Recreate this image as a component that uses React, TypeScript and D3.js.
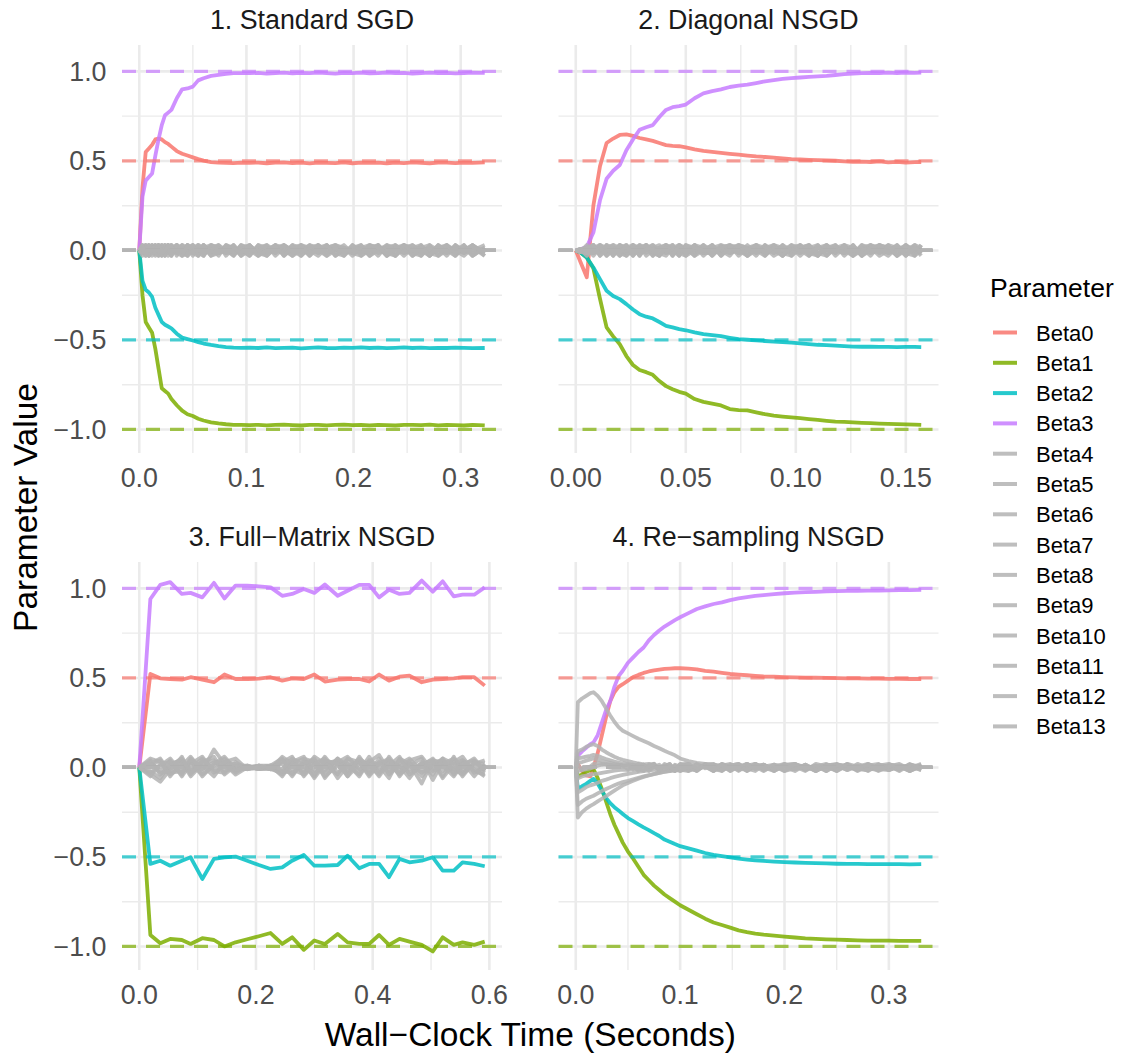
import React from "react";
import * as d3 from "d3";

// ---------------- DATA ----------------
const params = ["Beta0","Beta1","Beta2","Beta3","Beta4","Beta5","Beta6","Beta7","Beta8","Beta9","Beta10","Beta11","Beta12","Beta13"];
const paramColors = ["#F8766D","#7CAE00","#00BFC4","#C77CFF","#B3B3B3","#B3B3B3","#B3B3B3","#B3B3B3","#B3B3B3","#B3B3B3","#B3B3B3","#B3B3B3","#B3B3B3","#B3B3B3"];
const trueValues = [0.5,-1,-0.5,1,0,0,0,0,0,0,0,0,0,0];
const panelTitles = ["1. Standard SGD","2. Diagonal NSGD","3. Full\u2212Matrix NSGD","4. Re\u2212sampling NSGD"];
const yTicks = [-1,-0.5,0,0.5,1];
const yMinor = [-0.75,-0.25,0.25,0.75];
const xTicks1 = [0,0.1,0.2,0.3];
const xTicks2 = [0,0.05,0.1,0.15];
const xTicks3 = [0,0.2,0.4,0.6];
const xTicks4 = [0,0.1,0.2,0.3];

// Panel 1: Standard SGD
const t1 = [0,.003,.006,.009,.012,.015,.018,.021,.024,.027,
 .03,.035,.04,.045,.05,.055,.06,.067,.074,.081,
 .088,.095,.103,.111,.119,.127,.135,.143,.151,.159,
 .167,.175,.183,.191,.199,.207,.215,.223,.231,.239,
 .247,.255,.263,.271,.279,.287,.295,.303,.311,.3224];
const p1b0 = [0,.35,.55,.57,.59,.62,.625,.62,.605,.595,
 .58,.555,.54,.53,.52,.51,.502,.493,.49,.489,
 .488,.49,.489,.491,.487,.49,.492,.488,.49,.486,
 .491,.489,.488,.492,.487,.49,.489,.491,.486,.49,
 .488,.492,.489,.487,.49,.491,.488,.49,.489,.492];
const p1b1 = [0,-.25,-.40,-.43,-.46,-.55,-.66,-.77,-.785,-.80,
 -.83,-.865,-.895,-.915,-.925,-.94,-.95,-.96,-.966,-.971,
 -.974,-.975,-.976,-.974,-.977,-.975,-.973,-.976,-.978,-.975,
 -.974,-.977,-.975,-.973,-.976,-.975,-.977,-.974,-.976,-.978,
 -.975,-.974,-.976,-.973,-.977,-.975,-.976,-.978,-.974,-.977];
const p1b2 = [0,-.17,-.22,-.235,-.26,-.32,-.36,-.40,-.415,-.425,
 -.435,-.465,-.487,-.495,-.503,-.512,-.52,-.528,-.535,-.54,
 -.543,-.544,-.543,-.545,-.542,-.546,-.544,-.543,-.547,-.544,
 -.542,-.545,-.546,-.543,-.544,-.541,-.545,-.543,-.546,-.544,
 -.542,-.545,-.543,-.546,-.544,-.545,-.543,-.544,-.546,-.545];
const p1b3 = [0,.30,.39,.41,.43,.53,.62,.70,.755,.77,
 .785,.85,.90,.905,.915,.95,.962,.975,.981,.986,
 .99,.991,.99,.992,.988,.991,.993,.989,.992,.99,
 .994,.991,.988,.992,.99,.993,.989,.991,.994,.99,
 .992,.988,.991,.993,.99,.992,.989,.991,.993,.992];
const p1b4 = [0,.015,-.015,.03,0,-.03,.015,.03,-.015,0, .03,-.03,.015,0,-.015,.03,.015,-.03,0,.015, -.015,.03,0,-.03,.015,-.015,.03,0,.015,-.03, .03,-.015,0,.015,-.03,.015,.03,-.015,0,-.03, .015,.03,-.015,0,.015,-.03,.03,0,-.015,.015];
const p1b5 = [0,-.015,.03,-.015,.015,.03,-.03,0,.015,-.03, .015,.03,-.015,-.03,.03,0,-.015,.015,.03,-.03, .015,0,-.03,.03,-.015,.015,0,-.03,.03,.015, -.015,.03,-.03,0,.015,-.015,.03,.015,-.03,.03, 0,-.015,.03,-.03,.015,.03,-.015,0,.03,-.015];
const p1b6 = [0,.03,0,-.03,.03,-.015,0,.015,-.03,.03, -.015,0,.03,-.015,.015,-.03,.03,0,-.015,.03, .015,-.03,.015,0,.03,-.03,.015,-.015,.03,0, -.03,.015,.03,-.015,0,.03,-.03,.015,.015,-.015, .03,-.03,0,.015,-.015,.03,0,-.03,.015,0];
const p1b7 = [0,-.03,.015,0,-.015,.015,.03,-.03,.03,.015, -.03,.015,-.015,.03,0,-.015,-.03,.03,.015,-.015, .03,-.015,.03,-.015,0,.03,-.03,.015,-.015,.03, .015,-.03,0,.03,-.015,0,.015,-.03,.03,.015, -.03,.015,.03,-.015,-.03,.015,0,.03,-.03,.015];
const p1b8 = [0,.015,.03,-.03,-.015,.03,-.015,.015,0,-.015, .015,-.015,.03,.015,-.03,.015,0,-.015,.03,0, -.03,.015,-.015,.015,.03,0,-.015,.03,-.03,.015, 0,.03,-.015,-.03,.03,-.03,0,.03,-.015,.015, -.015,0,.015,.03,-.03,0,.015,-.015,.03,-.03];
const p1b9 = [0,0,-.03,.015,.03,0,.03,-.015,.015,.03, 0,.03,-.03,-.015,.015,.03,-.015,.015,-.03,.03, 0,.015,.03,-.015,-.03,.015,.03,-.015,0,-.015, .03,0,.015,-.03,.015,.03,-.015,0,.03,-.03, .015,-.03,.015,-.015,.03,0,-.03,.015,0,.03];
const p1b10 = [0,-.015,.015,.015,-.03,-.015,.015,.03,-.03,.015, -.015,.015,0,.03,-.015,-.03,.015,.03,-.015,0, .03,-.03,0,.015,-.015,.03,.015,-.03,0,.03, -.015,.015,.03,0,-.015,-.03,.015,.03,-.03,0, .03,.015,-.03,.03,0,-.015,.03,-.015,.015,-.03];
const p1b11 = [0,.03,-.015,0,.015,-.015,-.03,.015,.03,-.015, .03,0,-.015,.015,.03,-.015,.03,-.015,0,.015, -.03,.03,.015,0,-.03,.015,-.015,.03,.015,-.015, 0,-.03,.03,.015,-.015,.015,-.03,0,.015,.03, -.015,.03,0,-.03,.015,.015,-.03,.03,-.015,0];
const p1b12 = [0,-.015,0,-.03,.015,.015,0,-.03,.015,0, -.03,.03,.015,-.03,0,.015,-.03,.03,.015,-.015, 0,.015,-.03,.03,.015,-.015,.03,0,-.03,.015, .03,-.015,.015,-.015,.03,0,-.015,.03,-.03,.015, .03,-.015,-.03,.015,0,.03,-.015,.015,-.03,.015];
const p1b13 = [0,.015,-.03,.03,-.015,0,.03,-.015,0,.03, .015,-.015,-.03,.03,.015,0,.03,-.03,-.015,.015, .015,-.015,.03,-.03,0,.03,-.03,.015,.03,-.03, .015,.03,-.03,.015,0,-.015,.03,.015,-.015,-.03, .03,0,.015,-.03,.03,-.015,.015,0,.03,-.015];

// Panel 2: Diagonal NSGD
const t2 = [0,.002,.005,.008,.011,.014,.017,.02,.023,.026,
 .029,.032,.035,.038,.041,.044,.047,.05,.054,.058,
 .062,.066,.07,.074,.078,.082,.086,.09,.094,.098,
 .102,.106,.11,.114,.118,.122,.126,.13,.134,.138,
 .142,.146,.15,.154,.157];
const p2b0 = [0,-.06,-.15,.25,.47,.60,.625,.645,.648,.64,
 .628,.62,.612,.60,.588,.584,.582,.576,.565,.556,
 .55,.545,.54,.535,.53,.525,.522,.518,.514,.51,
 .508,.506,.505,.503,.501,.498,.495,.496,.494,.497,
 .492,.495,.491,.493,.494];
const p2b1 = [0,-.01,-.04,-.10,-.27,-.43,-.48,-.524,-.59,-.64,
 -.668,-.68,-.695,-.73,-.758,-.775,-.79,-.80,-.83,-.846,
 -.856,-.866,-.886,-.892,-.894,-.905,-.915,-.923,-.928,-.933,
 -.937,-.942,-.947,-.952,-.956,-.958,-.961,-.963,-.965,-.967,
 -.969,-.97,-.972,-.973,-.974];
const p2b2 = [0,-.01,-.04,-.095,-.16,-.225,-.255,-.272,-.30,-.33,
 -.356,-.37,-.38,-.40,-.421,-.43,-.44,-.446,-.458,-.468,
 -.473,-.479,-.488,-.496,-.499,-.502,-.506,-.509,-.512,-.515,
 -.519,-.523,-.527,-.529,-.532,-.535,-.537,-.538,-.538,-.539,
 -.539,-.54,-.539,-.539,-.54];
const p2b3 = [0,.005,.02,.10,.28,.40,.445,.477,.56,.62,
 .674,.688,.70,.745,.785,.80,.806,.815,.85,.877,
 .89,.90,.913,.92,.926,.935,.945,.952,.958,.963,
 .966,.969,.972,.975,.98,.985,.988,.99,.992,.99,
 .993,.991,.994,.992,.993];
const p2b4 = [0,.008,.015,-.015,.03,0,-.015,.03,.015,-.03, .015,0,.03,-.015,-.03,.015,.03,0,-.015,.015, -.03,.03,.015,-.015,0,.03,-.03,.015,.015,-.015, .03,0,-.03,.015,-.015,.03,.015,-.03,0,.03, -.015,.015,-.03,.03,.015];
const p2b5 = [0,-.008,-.015,.03,-.015,.015,.03,-.03,0,.015, -.015,.03,-.03,.015,0,-.015,.03,.015,-.03,0, .03,-.015,.015,.03,-.03,0,.015,-.015,.03,-.03, .015,.03,-.015,0,.03,-.03,.015,0,-.015,.03, .015,-.03,.03,0,-.015];
const p2b6 = [0,.008,-.015,.015,.03,-.03,.015,0,-.03,.03, .015,-.015,.015,.03,-.015,0,-.03,.03,.015,-.015, .015,0,-.03,.03,.015,-.015,.03,0,-.015,.015, -.03,.015,.03,-.015,0,.015,-.03,.03,-.015,0, .03,.015,-.015,-.03,.03];
const p2b7 = [0,-.008,.015,0,-.015,.03,-.03,.015,.03,-.015, 0,.03,-.015,-.03,.03,.015,0,-.015,.03,-.03, .015,.03,-.015,0,-.03,.03,.015,-.03,0,.03, -.015,.015,0,.03,-.03,.015,-.015,.03,.015,-.03, 0,.03,-.015,.015,-.03];
const p2b8 = [0,0,.015,-.03,.015,.015,0,-.03,.015,.03, -.03,.015,.03,0,-.015,.03,-.015,.015,-.03,.03, 0,-.015,.03,.015,-.015,0,-.03,.03,.015,-.015, .03,-.03,.015,0,.015,-.015,.03,-.03,.03,.015, -.015,0,.03,-.015,.015];
const p2b9 = [0,.008,0,.03,-.03,.03,.015,-.015,-.03,0, .03,-.03,0,.015,.03,-.03,.015,0,.03,-.015, -.015,.015,.03,-.03,.015,.03,-.015,0,-.03,.015, .03,-.015,.03,-.03,.015,0,-.03,.015,.03,-.015, .015,-.03,0,.03,-.015];
const p2b10 = [0,-.008,.03,-.015,0,-.015,.03,.015,-.015,.03, -.015,0,.015,-.03,.015,.03,-.03,.03,0,-.015, .03,-.03,.015,.015,-.03,.015,0,.03,-.015,-.03, .015,.03,-.03,.015,.03,-.015,0,-.015,.03,0, -.03,.015,.015,-.015,.03];
const p2b11 = [0,.008,-.03,.015,.015,-.03,0,.03,-.015,-.015, .03,.015,-.03,.015,0,.015,-.015,-.03,.03,.015, -.015,0,-.015,.03,.015,-.03,.03,-.015,.03,0, -.015,.03,-.015,-.03,.015,.03,-.015,.015,-.03,.03, .015,-.015,.03,-.03,0];
const p2b12 = [0,0,-.015,-.015,.03,.015,-.03,.03,0,.015, -.03,.03,-.015,.015,.03,-.015,.015,-.03,0,.03, -.03,.015,.03,-.015,.03,-.015,.015,.03,-.03,.015, 0,-.03,.015,.03,-.015,.03,-.03,0,.015,-.015, .03,-.03,.015,.015,-.015];
const p2b13 = [0,-.008,.015,.03,-.03,0,.015,-.015,.03,-.03, .015,.03,0,-.03,.015,-.03,.03,-.015,.015,0, .03,-.03,.015,-.015,0,.03,-.015,.015,-.03,.03, .015,-.015,-.03,.03,0,-.015,.03,-.03,.015,.03, -.015,.03,-.03,.015,0];

// Panel 3: Full-Matrix NSGD
const t3 = [0,.019,.036,.053,.073,.088,.108,.128,.146,.165,
 .185,.205,.225,.245,.262,.282,.3,.318,.34,.357,
 .377,.394,.411,.428,.446,.463,.484,.503,.52,.539,
 .554,.574,.592];
const p3b0 = [0,.522,.498,.494,.49,.504,.49,.476,.519,.494, .494,.496,.504,.485,.498,.494,.519,.48,.49,.494, .494,.48,.519,.485,.507,.513,.476,.49,.494,.498, .504,.504,.457];
const p3b1 = [0,-.936,-.982,-.958,-.964,-.986,-.954,-.964,-1.0,-.977, -.96,-.943,-.925,-.986,-.949,-1.019,-.967,-.986,-.93,-.977, -.986,-.986,-.936,-.991,-.958,-.973,-.991,-1.028,-.949,-.991, -.977,-.991,-.973];
const p3b2 = [0,-.539,-.521,-.549,-.521,-.502,-.623,-.511,-.502,-.498, -.521,-.545,-.567,-.558,-.521,-.489,-.549,-.549,-.545,-.493, -.563,-.539,-.539,-.613,-.511,-.53,-.521,-.502,-.576,-.576, -.53,-.539,-.552];
const p3b3 = [0,.941,1.02,1.035,.969,.975,.95,1.031,.944,1.016, 1.016,1.012,1.006,.959,.969,.997,.975,1.022,.959,.987, 1.02,1.02,.95,.992,.969,.975,1.044,.982,1.04,.956, .965,.965,1.006];
const p3b4 = [0,.03,-.02,.04,-.05,.02,.06,-.03,.01,-.02, 0,-.01,.01,.05,-.04,.03,-.06,.02,.04,-.03, .05,.01,-.04,.06,-.02,.03,-.05,.02,.04,-.03, .01,.05,-.02];
const p3b5 = [0,-.04,-.08,-.01,.03,-.05,.02,.04,-.02,0, -.01,.01,-.01,.03,.06,-.05,.02,-.03,.05,.01, -.04,.03,.07,-.02,.01,-.06,.03,-.01,.02,.05, -.03,.02,.04];
const p3b6 = [0,.05,.03,-.04,.01,.06,-.02,.1,.02,-.03, .01,-.01,0,-.04,.02,.05,.03,-.05,.01,.04, -.02,.06,-.03,.02,-.04,.01,.05,-.07,.03,-.01, .04,-.02,-.04];
const p3b7 = [0,-.02,-.06,.02,.04,-.03,.01,-.05,.03,.02, 0,.01,-.01,-.03,.04,-.02,.06,.02,-.04,.05, .03,-.05,.02,.04,.01,-.03,.02,.04,-.05,.06, -.02,.01,-.03];
const p3b8 = [0,.02,.05,-.03,-.02,.04,-.05,.02,.06,-.01, -.01,0,.01,.02,-.05,.04,-.02,.06,-.03,.02, -.05,.04,.01,-.06,.05,.02,-.03,.01,.05,-.04, .03,-.05,.02];
const p3b9 = [0,.04,-.04,.01,.05,-.02,.03,.06,-.04,.01, .01,-.01,-.01,.06,.02,-.03,.04,-.02,.05,-.05, .02,.03,-.02,.01,.06,-.04,.01,.05,-.02,.03, .06,-.03,.01];
const p3b10 = [0,-.03,.01,.05,-.03,.03,-.04,.01,.05,-.02, .01,-.01,.01,-.05,.03,.06,-.04,.03,.02,-.02, .04,-.03,.05,-.04,.02,.05,-.02,.03,-.06,.02, .04,-.01,-.05];
const p3b11 = [0,.01,.04,-.05,.03,-.01,.05,-.02,-.03,.03, -.01,.01,.01,-.02,-.03,.02,.05,-.06,.03,.06, -.01,.02,-.05,.03,-.03,.04,.06,-.02,.01,-.05, .02,.04,-.02];
const p3b12 = [0,-.05,.02,.03,-.04,.05,-.01,.03,.02,-.04, 0,.01,-.01,.04,-.01,-.04,.02,.05,-.06,.01, .03,-.04,.02,.05,-.05,.02,-.09,.04,.03,-.01, -.04,.03,.02];
const p3b13 = [0,.02,-.03,-.02,.06,-.04,.04,-.01,.03,.05, -.01,0,.01,-.01,.05,.01,-.05,.04,.02,-.05, .06,-.02,.03,-.03,.04,-.01,.02,-.04,.05,.02, -.05,.03,-.01];

// Panel 4: Re-sampling NSGD
const t4 = [0,.002,.006,.01,.014,.017,.021,.025,.029,.033,
 .037,.041,.045,.05,.055,.06,.065,.07,.075,.08,
 .085,.09,.095,.1,.108,.116,.124,.132,.14,.148,
 .156,.164,.172,.18,.19,.2,.21,.22,.23,.24,
 .25,.26,.27,.28,.29,.3,.31,.32,.331];
const p4b0 = [0,.02,-.02,-.045,-.05,0,.08,.18,.28,.37,
 .42,.45,.465,.485,.505,.517,.528,.536,.542,.546,
 .55,.552,.554,.554,.552,.548,.54,.535,.528,.522,
 .518,.515,.512,.508,.507,.505,.503,.502,.501,.5,
 .499,.498,.497,.496,.496,.495,.495,.494,.494];
const p4b1 = [0,-.05,-.04,-.025,-.015,-.01,-.06,-.12,-.19,-.26,
 -.32,-.37,-.42,-.47,-.51,-.555,-.6,-.63,-.66,-.685,
 -.71,-.73,-.75,-.77,-.795,-.82,-.845,-.866,-.88,-.895,
 -.91,-.92,-.928,-.934,-.94,-.945,-.95,-.955,-.958,-.96,
 -.962,-.964,-.966,-.967,-.968,-.968,-.969,-.969,-.969];
const p4b2 = [0,-.12,-.105,-.092,-.075,-.064,-.09,-.13,-.17,-.2,
 -.222,-.24,-.26,-.283,-.3,-.318,-.335,-.35,-.367,-.383,
 -.403,-.415,-.428,-.44,-.452,-.465,-.478,-.489,-.496,-.503,
 -.51,-.515,-.519,-.522,-.526,-.529,-.531,-.533,-.535,-.536,
 -.538,-.539,-.539,-.54,-.54,-.54,-.54,-.541,-.54];
const p4b3 = [0,.066,.09,.11,.13,.14,.18,.25,.32,.37,
 .45,.51,.54,.585,.615,.645,.67,.71,.74,.765,
 .787,.805,.823,.839,.862,.885,.9,.913,.922,.935,
 .944,.952,.958,.963,.968,.973,.976,.979,.981,.983,
 .985,.986,.987,.988,.988,.989,.99,.991,.992];
const p4b4 = [0,.364,.385,.40,.415,.42,.40,.37,.33,.29,
 .255,.225,.205,.19,.175,.16,.148,.135,.12,.107,
 .093,.08,.068,.05,.035,.025,.02,.015,.01,.02,
 -.01,.02,0,.015,-.015,.01,.005,-.02,.02,.005,
 -.01,.02,.005,-.015,.01,.02,-.005,.015,.005];
const p4b5 = [0,.09,.10,.115,.125,.13,.12,.10,.085,.072,
 .06,.05,.042,.035,.028,.022,.017,.02,.01,-.01,
 .005,.02,-.015,.02,.005,-.02,.015,.02,-.01,.01,
 -.02,.01,.02,-.015,.005,.02,-.01,.015,-.02,.01,
 .02,-.005,.01,-.02,.015,.005,-.015,.02,-.01];
const p4b6 = [0,.05,.055,.06,.065,.07,.065,.055,.047,.04,
 .033,.027,.022,.018,.014,.01,.015,-.01,.005,-.015,
 .02,.005,-.02,.015,.02,-.01,.005,-.02,.02,.005,
 -.015,.02,-.005,.015,-.02,.01,.02,-.015,.005,.02,
 -.01,.015,-.02,.01,.02,-.015,.01,-.005,.02];
const p4b7 = [0,.025,.03,.038,.045,.05,.045,.035,.03,.025,
 .02,.016,.013,.01,.015,-.01,-.02,.015,.02,-.01,
 .01,-.02,.015,.005,-.015,.02,-.005,.015,-.02,.01,
 .02,-.01,.02,0,-.02,.015,.02,-.01,.01,-.02,
 .015,.005,-.015,.02,-.005,.01,-.02,.015,0];
const p4b8 = [0,-.02,-.015,-.01,-.005,0,.01,.015,.018,.015,
 .012,.015,.01,-.01,.005,-.02,.015,-.01,.02,-.015,
 .005,.02,-.015,.01,-.02,.015,.005,-.01,.02,-.005,
 .015,-.02,.01,.015,-.015,.02,-.01,.005,-.02,.015,
 .01,-.015,.02,-.005,-.015,.015,.01,-.02,.015];
const p4b9 = [0,-.28,-.25,-.23,-.215,-.205,-.19,-.175,-.16,-.145,
 -.13,-.115,-.1,-.087,-.075,-.063,-.053,-.045,-.037,-.03,
 -.024,-.019,-.014,-.02,-.006,-.015,.015,-.02,.01,-.02,
 .01,-.005,-.02,.015,-.01,.005,-.02,.015,-.01,.005,
 -.015,.02,-.015,.01,-.02,.005,-.01,.015,-.015];
const p4b10 = [0,-.21,-.19,-.175,-.165,-.158,-.145,-.132,-.121,-.11,
 -.1,-.09,-.082,-.075,-.066,-.058,-.05,-.043,-.036,-.03,
 -.025,-.02,-.016,-.012,-.02,-.005,.005,-.02,.01,-.015,
 .015,-.02,.005,-.01,.015,-.02,-.005,.01,-.015,.005,
 -.02,.015,-.01,-.015,.01,-.015,.005,-.02,.01];
const p4b11 = [0,-.14,-.125,-.11,-.1,-.095,-.085,-.075,-.068,-.06,
 -.053,-.047,-.042,-.036,-.03,-.025,-.021,-.017,-.013,-.02,
 -.007,-.015,.01,-.02,.005,-.02,.015,-.01,-.02,.015,
 -.005,-.015,.02,-.01,.005,-.02,.015,.005,-.015,.01,
 -.02,.01,-.005,-.015,.015,-.01,.005,-.02,.005];
const p4b12 = [0,-.06,-.05,-.045,-.04,-.038,-.035,-.03,-.026,-.022,
 -.018,-.015,-.012,-.015,-.006,-.01,.015,-.02,.005,.015,
 -.01,.005,-.02,.015,.01,-.015,.02,-.005,-.015,.01,
 .02,-.01,.005,-.02,.015,.005,-.01,.015,-.02,.01,
 .015,-.015,.005,.02,-.01,-.015,.01,.005,-.015];
const p4b13 = [0,.01,-.01,0,.005,.02,.025,.02,.015,.012,
 .01,.007,.005,.015,-.01,.02,-.015,.005,.02,-.015,
 .01,.005,-.02,.015,.02,-.005,.01,-.015,.015,-.02,
 .005,.02,-.01,.005,.015,-.015,.02,-.005,.01,-.02,
 .015,.01,-.01,.015,-.015,.005,.02,-.01,.01];

// ---------------- LAYOUT ----------------
const W = 1121, H = 1055;
const ROWS: [number, number][] = [[45, 453], [562, 970]];
const COLS: [number, number][] = [[122, 502], [558.5, 938.5]];
const FONT = "'Liberation Sans', Arial, Helvetica, sans-serif";

const panels = [
  { title: panelTitles[0], t: t1, series: [p1b0,p1b1,p1b2,p1b3,p1b4,p1b5,p1b6,p1b7,p1b8,p1b9,p1b10,p1b11,p1b12,p1b13], ticks: xTicks1, fmt: ".1f", row: 0, col: 0 },
  { title: panelTitles[1], t: t2, series: [p2b0,p2b1,p2b2,p2b3,p2b4,p2b5,p2b6,p2b7,p2b8,p2b9,p2b10,p2b11,p2b12,p2b13], ticks: xTicks2, fmt: ".2f", row: 0, col: 1 },
  { title: panelTitles[2], t: t3, series: [p3b0,p3b1,p3b2,p3b3,p3b4,p3b5,p3b6,p3b7,p3b8,p3b9,p3b10,p3b11,p3b12,p3b13], ticks: xTicks3, fmt: ".1f", row: 1, col: 0 },
  { title: panelTitles[3], t: t4, series: [p4b0,p4b1,p4b2,p4b3,p4b4,p4b5,p4b6,p4b7,p4b8,p4b9,p4b10,p4b11,p4b12,p4b13], ticks: xTicks4, fmt: ".1f", row: 1, col: 1 },
];

const expand = (lo: number, hi: number): [number, number] => {
  const r = hi - lo;
  return [lo - 0.05 * r, hi + 0.05 * r];
};

const allVals = panels.flatMap(p => p.series.flat()).concat(trueValues);
const yDomain = expand(d3.min(allVals) as number, d3.max(allVals) as number);

const minus = (s: string) => s.replace("-", "\u2212");

function Panel({ p }: { p: typeof panels[number] }) {
  const [x0, x1] = COLS[p.col];
  const [y0, y1] = ROWS[p.row];
  const tExt = d3.extent(p.t) as [number, number];
  const x = d3.scaleLinear().domain(expand(tExt[0], tExt[1])).range([x0, x1]);
  const y = d3.scaleLinear().domain(yDomain).range([y1, y0]);
  const step = p.ticks[1] - p.ticks[0];
  const xMinor = p.ticks.map(v => v + step / 2).filter(v => v <= x.domain()[1]);
  const line = d3.line<[number, number]>().x(d => x(d[0])).y(d => y(d[1]));
  const fmt = d3.format(p.fmt);
  const grid = "#EBEBEB";
  return (
    <g>
      {yMinor.map(v => <line key={"ym" + v} x1={x0} x2={x1} y1={y(v)} y2={y(v)} stroke={grid} strokeWidth={1.4} />)}
      {xMinor.map(v => <line key={"xm" + v} x1={x(v)} x2={x(v)} y1={y0} y2={y1} stroke={grid} strokeWidth={1.4} />)}
      {yTicks.map(v => <line key={"yM" + v} x1={x0} x2={x1} y1={y(v)} y2={y(v)} stroke={grid} strokeWidth={2.6} />)}
      {p.ticks.map(v => <line key={"xM" + v} x1={x(v)} x2={x(v)} y1={y0} y2={y1} stroke={grid} strokeWidth={2.6} />)}
      {p.series.map((vals, i) => {
        const n = Math.min(vals.length, p.t.length);
        const pts: [number, number][] = [];
        for (let k = 0; k < n; k++) pts.push([p.t[k], vals[k]]);
        return <path key={"s" + i} d={line(pts) || ""} fill="none" stroke={paramColors[i]} strokeOpacity={0.85} strokeWidth={3.8} strokeLinejoin="round" />;
      })}
      {trueValues.map((v, i) => (
        <line key={"h" + i} x1={x0} x2={x1} y1={y(v)} y2={y(v)} stroke={paramColors[i]} strokeOpacity={0.7} strokeWidth={3.2} strokeDasharray="14,10" />
      ))}
      <text x={(x0 + x1) / 2} y={y0 - 16} textAnchor="middle" fontSize={26.8} fill="#1A1A1A" fontFamily={FONT}>{p.title}</text>
      {p.ticks.map(v => (
        <text key={"xl" + v} x={x(v)} y={y1 + 34} textAnchor="middle" fontSize={26.8} fill="#4D4D4D" fontFamily={FONT}>{fmt(v)}</text>
      ))}
      {p.col === 0 && yTicks.map(v => (
        <text key={"yl" + v} x={x0 - 15.5} y={y(v) + 9.5} textAnchor="end" fontSize={26.8} fill="#4D4D4D" fontFamily={FONT}>{minus(d3.format(".1f")(v))}</text>
      ))}
    </g>
  );
}

export default function App() {
  const legendX = 990, legendY0 = 332.5, legendStep = 30.3;
  return (
    <svg width={W} height={H} viewBox={`0 0 ${W} ${H}`} style={{ position: "absolute", left: 0, top: 0, background: "#fff", display: "block" }}>
      <rect width={W} height={H} fill="#fff" />
      {panels.map((p, i) => <Panel key={i} p={p} />)}
      <text x={(COLS[0][0] + COLS[1][1]) / 2} y={1046} textAnchor="middle" fontSize={33.5} fill="#000" fontFamily={FONT}>Wall{"\u2212"}Clock Time (Seconds)</text>
      <text transform={`translate(37, ${(ROWS[0][0] + ROWS[1][1]) / 2}) rotate(-90)`} textAnchor="middle" fontSize={33.5} fill="#000" fontFamily={FONT}>Parameter Value</text>
      <text x={legendX} y={297} fontSize={26.5} fill="#000" fontFamily={FONT}>Parameter</text>
      {params.map((name, i) => {
        const yy = legendY0 + i * legendStep;
        return (
          <g key={name}>
            <line x1={993} x2={1017} y1={yy} y2={yy} stroke={paramColors[i]} strokeOpacity={0.85} strokeWidth={4} />
            <text x={1036} y={yy + 8} fontSize={22} fill="#000" fontFamily={FONT}>{name}</text>
          </g>
        );
      })}
    </svg>
  );
}
